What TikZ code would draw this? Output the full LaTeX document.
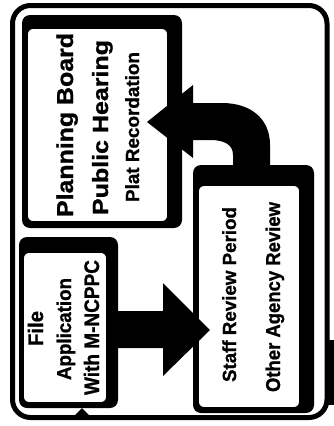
\documentclass[tikz,border=0pt]{standalone}
\usepackage{fontspec}
\setmainfont{Liberation Sans}[BoldFeatures={FakeBold=1}]
\usepackage{graphicx}
\newcommand{\lbltext}[3]{\resizebox{#1pt}{\height}{\fontsize{#2}{#2}\selectfont\bfseries #3}}
\tikzset{
  txt/.style={rotate=90, anchor=base, inner sep=0pt},
  shadowbox/.style={fill=black, rounded corners=8pt},
  whitebox/.style={fill=white, draw=black, line width=1.8pt, rounded corners=6pt},
  blockarrow/.style={fill=black},
  frame/.style={draw=black, line width=5pt, rounded corners=18pt}
}
\begin{document}
\begin{tikzpicture}[x=1pt,y=-1pt]
\useasboundingbox (0,0) rectangle (334,426);
% outer frame
\draw[frame] (12.5,5.5) rectangle (327,417.5);
\fill (327,340) rectangle (334,405);
\fill (74,416) -- (82,408) -- (90,416) -- cycle;
% Planning box
\fill[shadowbox] (22,15) rectangle (182,228);
\draw[whitebox] (27,28) rectangle (168,222);
% File box
\fill[shadowbox] (19,237) rectangle (118,408);
\draw[whitebox] (23,252) rectangle (107,403);
% Staff box
\fill[shadowbox] (193,165) rectangle (314,413);
\draw[whitebox] (198,185) rectangle (300,408);
% straight arrow
\coordinate (a1) at (118,311);
\fill[blockarrow] (a1) -- (163,311) -- (163,283) -- (210,330) -- (163,376) -- (163,348) -- (118,348) -- cycle;
% curved arrow
\fill[blockarrow] (270,168) -- (270,145) .. controls (270,118) and (250,103) .. (222,103)
  -- (193,103) -- (193,85) -- (147,122) -- (193,158) -- (193,140) -- (210,140)
  .. controls (225,140) and (233,145) .. (233,155) -- (233,168) -- cycle;
% texts
\node[txt] (pb) at (73,125) {\lbltext{184}{23}{Planning Board}};
\node[txt] (ph) at (108,127.5) {\lbltext{175}{22}{Public Hearing}};
\node[txt] (pr) at (139,127) {\lbltext{150}{19}{Plat Recordation}};
\node[txt] (f1) at (43,328.5) {\lbltext{35}{21}{File}};
\node[txt] (f2) at (71,329) {\lbltext{102}{20}{Application}};
\node[txt] (f3) at (99,327.5) {\lbltext{135}{21}{With M-NCPPC}};
\node[txt] (s1) at (236,294.5) {\lbltext{175}{19}{Staff Review Period}};
\node[txt] (s2) at (280,297) {\lbltext{190}{20}{Other Agency Review}};
\end{tikzpicture}
\end{document}
